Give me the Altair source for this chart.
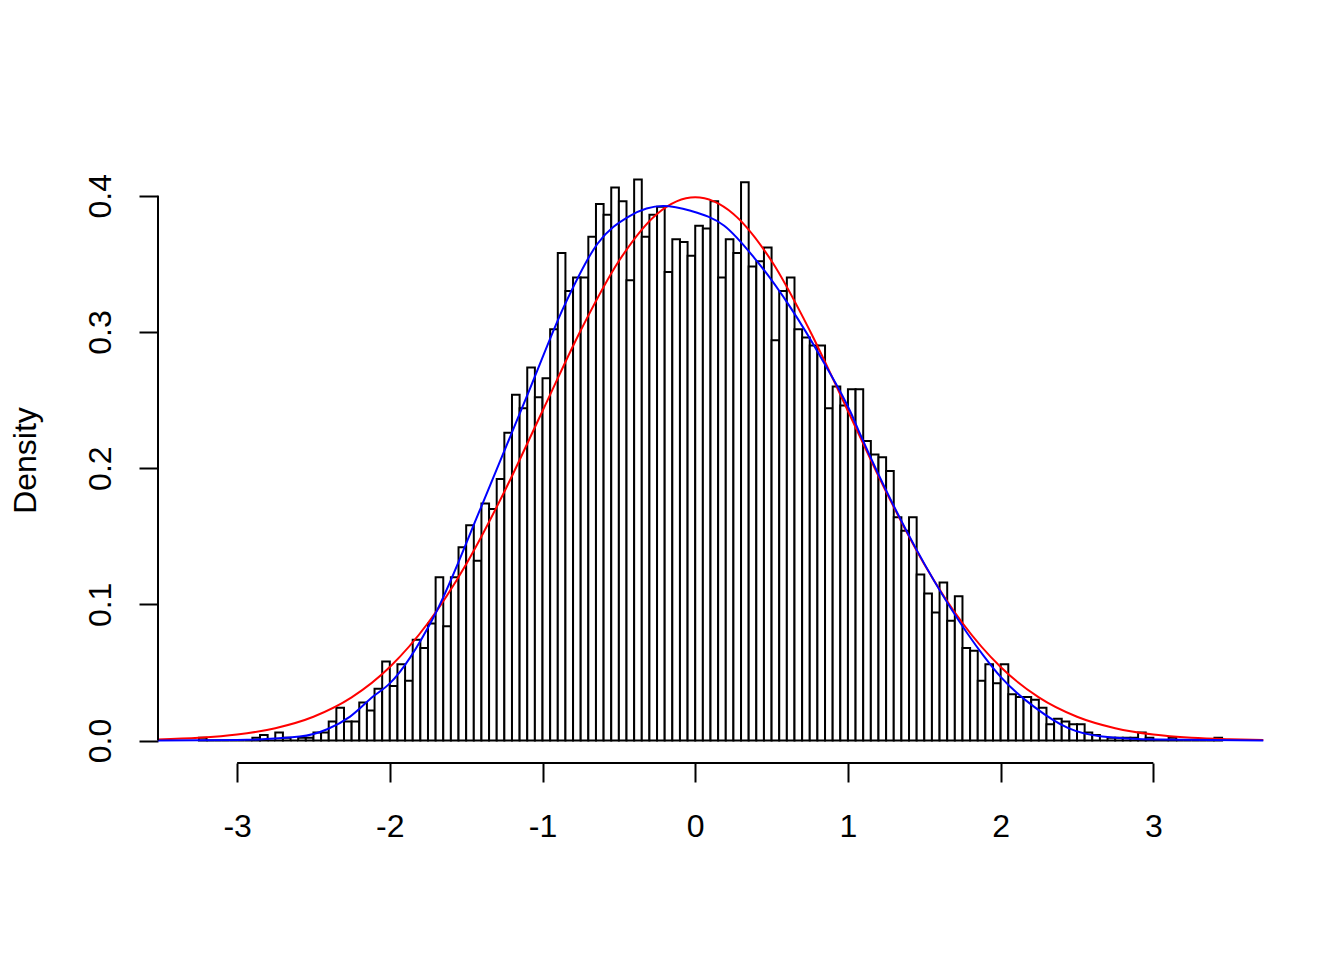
import altair as alt
import pandas as pd

# ---- histogram (bin width 0.05, left edges from -3.25) ----
BIN_START = -3.25
BIN_WIDTH = 0.05
densities = [
    0.002, 0, 0, 0, 0, 0, 0, 0.002, 0.004, 0,
    0.006, 0.002, 0, 0.002, 0.002, 0.006, 0.006, 0.014, 0.024, 0.014,
    0.014, 0.028, 0.022, 0.038, 0.058, 0.040, 0.056, 0.044, 0.074, 0.068,
    0.086, 0.120, 0.084, 0.120, 0.142, 0.158, 0.132, 0.174, 0.170, 0.192,
    0.226, 0.254, 0.244, 0.274, 0.252, 0.266, 0.302, 0.358, 0.330, 0.340,
    0.340, 0.370, 0.394, 0.386, 0.406, 0.396, 0.338, 0.412, 0.370, 0.386,
    0.392, 0.344, 0.368, 0.366, 0.356, 0.378, 0.376, 0.396, 0.340, 0.368,
    0.358, 0.410, 0.348, 0.352, 0.362, 0.294, 0.330, 0.340, 0.302, 0.296,
    0.290, 0.290, 0.244, 0.260, 0.246, 0.258, 0.258, 0.220, 0.210, 0.208,
    0.198, 0.164, 0.154, 0.164, 0.122, 0.108, 0.094, 0.116, 0.088, 0.106,
    0.068, 0.066, 0.044, 0.056, 0.042, 0.056, 0.034, 0.032, 0.032, 0.030,
    0.024, 0.012, 0.016, 0.014, 0.012, 0.012, 0.006, 0.004, 0, 0.002,
    0.002, 0.002, 0.002, 0.006, 0.002, 0, 0, 0.002, 0, 0,
    0, 0, 0, 0.002,
]
bin_starts = [round(BIN_START + BIN_WIDTH * i, 2) for i in range(len(densities))]
bin_ends = [round(s + BIN_WIDTH, 2) for s in bin_starts]

# ---- red curve (standard normal density) ----
red_x = [-3.52, -3.25, -3.0, -2.75, -2.5, -2.25, -2.0, -1.75, -1.5, -1.25, -1.0,
         -0.75, -0.5, -0.25, 0.0, 0.25, 0.5, 0.75, 1.0, 1.25, 1.5, 1.75, 2.0,
         2.25, 2.5, 2.75, 3.0, 3.25, 3.5, 3.72]
red_y = [0.0008, 0.0020, 0.0044, 0.0091, 0.0175, 0.0317, 0.0540, 0.0863, 0.1295,
         0.1827, 0.2420, 0.3011, 0.3521, 0.3867, 0.3989, 0.3867, 0.3521, 0.3011,
         0.2420, 0.1827, 0.1295, 0.0863, 0.0540, 0.0317, 0.0175, 0.0091, 0.0044,
         0.0020, 0.0009, 0.0004]

# ---- blue curve (fitted density) ----
blue_x = [-3.52, -3.0, -2.59, -2.41, -2.26, -2.11, -2.0, -1.71, -1.40, -1.08,
          -0.86, -0.64, -0.43, -0.21, -0.03, 0.19, 0.40, 0.62, 0.84, 1.02, 1.08,
          1.45, 1.89, 2.0, 2.22, 2.44, 2.65, 3.04, 3.72]
blue_y = [0.0, 0.0004, 0.0029, 0.0083, 0.0176, 0.0323, 0.042, 0.0913, 0.172, 0.259,
          0.3186, 0.3648, 0.3851, 0.3925, 0.389, 0.378, 0.3526, 0.3186, 0.278,
          0.2405, 0.225, 0.140, 0.062, 0.0467, 0.0247, 0.0093, 0.0032, 0.0007, 0.0]

x_ticks = [-3, -2, -1, 0, 1, 2, 3]
y_ticks = [0.0, 0.1, 0.2, 0.3, 0.4]

X_DOMAIN = [-3.518, 3.718]
Y_DOMAIN = [-0.01648, 0.42848]
FONT = "Liberation Sans"

hist_df = pd.DataFrame({"x": bin_starts, "x2": bin_ends, "y": densities,
                        "y2": [0.0] * len(densities)})
red_df = pd.DataFrame({"x": red_x, "y": red_y})
blue_df = pd.DataFrame({"x": blue_x, "y": blue_y})
xaxis_df = pd.DataFrame({"x": [x_ticks[0]], "x2": [x_ticks[-1]], "y": [Y_DOMAIN[0]]})
yaxis_df = pd.DataFrame({"x": [X_DOMAIN[0]], "y": [y_ticks[0]], "y2": [y_ticks[-1]]})

xscale = alt.Scale(domain=X_DOMAIN, zero=False, nice=False)
yscale = alt.Scale(domain=Y_DOMAIN, zero=False, nice=False)

xaxis = alt.Axis(
    values=x_ticks, labelExpr="'' + datum.value", domain=False, grid=False,
    tickSize=19, tickWidth=2, tickColor="black", labelFontSize=32, labelFont=FONT,
    labelColor="black", labelPadding=54, labelBaseline="alphabetic",
    labelFlush=False, labelOverlap=False, title=None,
)
yaxis = alt.Axis(
    values=y_ticks, format=".1f", domain=False, grid=False,
    tickSize=19, tickWidth=2, tickColor="black", labelFontSize=32, labelFont=FONT,
    labelColor="black", labelAngle=270, labelAlign="center", labelBaseline="alphabetic",
    labelPadding=29, labelFlush=False, labelOverlap=False,
    title="Density", titleFontSize=32, titleFont=FONT, titleFontWeight="normal",
    titleColor="black", titleAngle=270, titleAlign="center", titleBaseline="alphabetic",
    titleX=-123, titleY=303,
)


def X():
    return alt.X("x:Q", scale=xscale, axis=xaxis)


def Y():
    return alt.Y("y:Q", scale=yscale, axis=yaxis)


bars = alt.Chart(hist_df).mark_rect(fill="white", stroke="black", strokeWidth=2).encode(
    x=X(), x2="x2:Q", y=Y(), y2="y2:Q",
)
red = alt.Chart(red_df).mark_line(color="#FF0000", strokeWidth=2, interpolate="monotone").encode(
    x=X(), y=Y(),
)
blue = alt.Chart(blue_df).mark_line(color="#0000FF", strokeWidth=2, interpolate="monotone").encode(
    x=X(), y=Y(),
)
xline = alt.Chart(xaxis_df).mark_rule(color="black", strokeWidth=2).encode(
    x=X(), x2="x2:Q", y=Y(),
)
yline = alt.Chart(yaxis_df).mark_rule(color="black", strokeWidth=2).encode(
    x=X(), y=Y(), y2="y2:Q",
)

chart = alt.layer(bars, red, blue, xline, yline).properties(
    width=1105,
    height=606,
    autosize=alt.AutoSizeParams(type="none"),
    padding={"left": 150, "top": 149, "right": 20, "bottom": 120},
    background="white",
).configure_view(stroke=None)

chart.save("out.html", embed_options={"renderer": "svg", "actions": False})
